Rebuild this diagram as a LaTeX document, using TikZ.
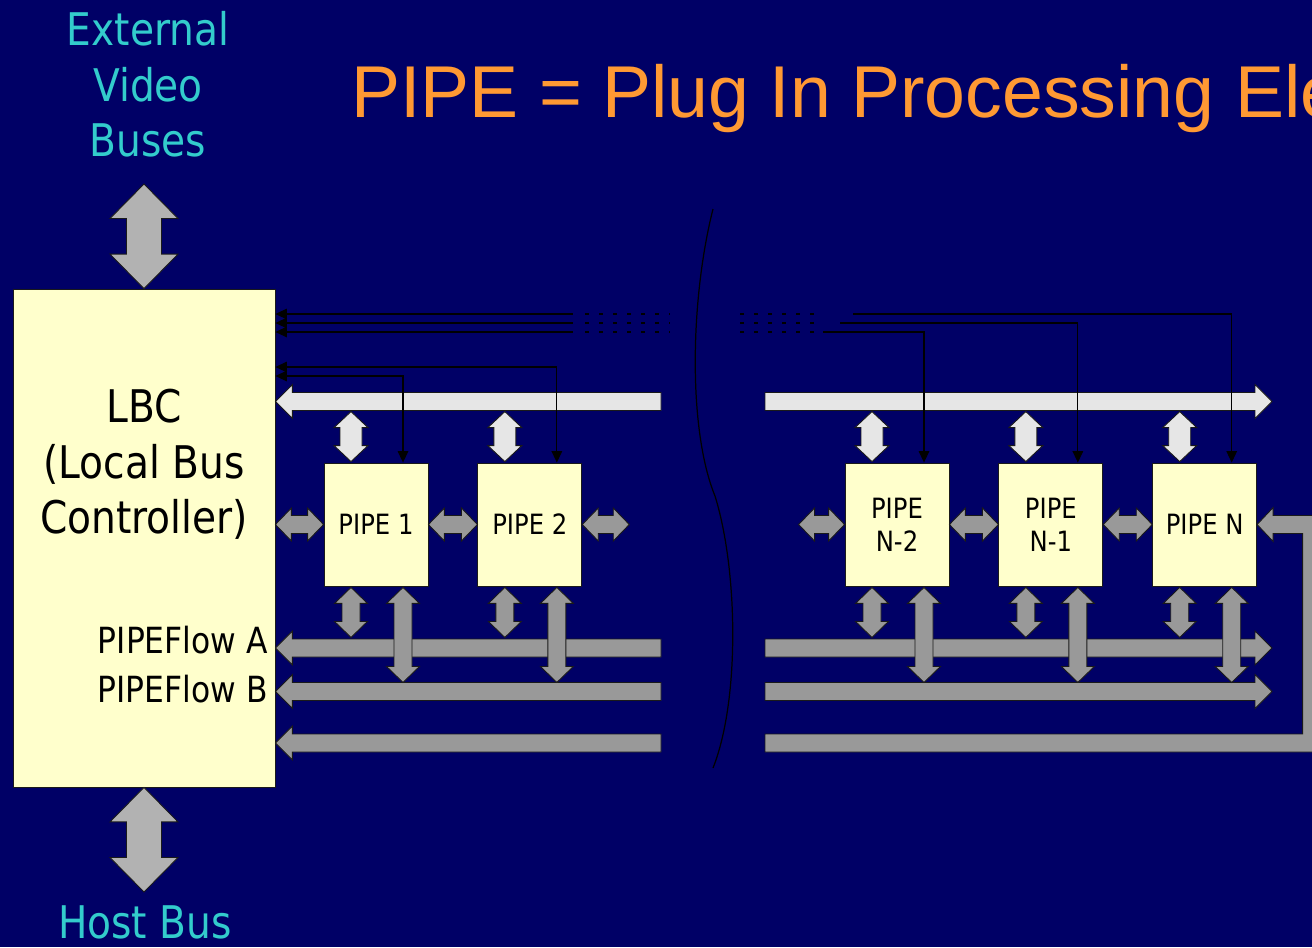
\documentclass[tikz,border=0pt]{standalone}
\usepackage{fontspec}
\setmainfont{DejaVu Sans}[FakeStretch=0.87]
\newfontfamily\titlefont{Liberation Sans}
\usetikzlibrary{positioning,arrows.meta,calc}
\definecolor{slidebg}{HTML}{000066}
\definecolor{busname}{HTML}{33CCCC}
\definecolor{titlecolor}{HTML}{FF9933}
\definecolor{boxfill}{HTML}{FFFFCC}
\definecolor{biggray}{HTML}{B2B2B2}
\definecolor{midgray}{HTML}{999999}
\definecolor{lightbus}{HTML}{E6E6E6}
\definecolor{edge}{HTML}{1A1A1A}

% block arrow geometry (half body, half head, head length)
\def\blkbody{0.18cm}
\def\blkhead{0.34cm}
\def\blklen{0.34cm}
\tikzset{
    blk body/.code={\def\blkbody{#1}},
    blk head/.code={\def\blkhead{#1}},
    blk len/.code={\def\blklen{#1}},
}

% vertical block arrow, heads at both ends (top point first)
\newcommand{\blockarrowV}[3][]{%
  \path[blockarrow,#1] let \p1=#2, \p2=#3 in
    (\x1,\y1) -- (\x1+\blkhead,\y1-\blklen) -- (\x1+\blkbody,\y1-\blklen)
    -- (\x1+\blkbody,\y2+\blklen) -- (\x1+\blkhead,\y2+\blklen) -- (\x1,\y2)
    -- (\x1-\blkhead,\y2+\blklen) -- (\x1-\blkbody,\y2+\blklen)
    -- (\x1-\blkbody,\y1-\blklen) -- (\x1-\blkhead,\y1-\blklen) -- cycle;}

% horizontal block arrow, heads at both ends (left point first)
\newcommand{\blockarrowH}[3][]{%
  \path[blockarrow,#1] let \p1=#2, \p2=#3 in
    (\x1,\y1) -- (\x1+\blklen,\y1+\blkhead) -- (\x1+\blklen,\y1+\blkbody)
    -- (\x2-\blklen,\y1+\blkbody) -- (\x2-\blklen,\y1+\blkhead) -- (\x2,\y1)
    -- (\x2-\blklen,\y1-\blkhead) -- (\x2-\blklen,\y1-\blkbody)
    -- (\x1+\blklen,\y1-\blkbody) -- (\x1+\blklen,\y1-\blkhead) -- cycle;}

% bus bar, head at the first point, flat at the second
\newcommand{\busarrow}[3][]{%
  \path[blockarrow,#1] let \p1=#2, \p2=#3, \n1={sign(\x2-\x1)} in
    (\x1,\y1) -- (\x1+\n1*\blklen,\y1+\blkhead) -- (\x1+\n1*\blklen,\y1+\blkbody)
    -- (\x2,\y1+\blkbody) -- (\x2,\y1-\blkbody) -- (\x1+\n1*\blklen,\y1-\blkbody)
    -- (\x1+\n1*\blklen,\y1-\blkhead) -- cycle;}

\begin{document}
\begin{tikzpicture}[
    x=0.02cm, y=-0.02cm,
    >={Triangle[length=6.5pt,width=6pt]},
    every node/.style={inner sep=0pt},
    pipebox/.style={
        draw=edge,
        line width=0.5pt,
        fill=boxfill,
        minimum width=2.08cm,
        minimum height=2.46cm,
        align=center,
        font=\fontsize{15.9}{18.8}\selectfont,
    },
    lbcbox/.style={
        draw=edge,
        line width=0.5pt,
        fill=boxfill,
        minimum width=5.24cm,
        minimum height=9.96cm,
    },
    bigtext/.style={align=center,font=\fontsize{25.6}{31.7}\selectfont},
    flowtext/.style={font=\fontsize{20.5}{24}\selectfont},
    blockarrow/.style={draw=edge,line width=0.5pt,line join=miter},
    bigarrow/.style={fill=biggray,blk body=0.35cm,blk head=0.68cm,blk len=0.69cm},
    lightarrow/.style={fill=lightbus,blk body=0.22cm,blk head=0.34cm,blk len=0.32cm},
    grayarrow/.style={fill=midgray,blk body=0.18cm,blk head=0.33cm,blk len=0.32cm},
    graybus/.style={fill=midgray,blk body=0.18cm,blk head=0.34cm,blk len=0.34cm},
    lightbar/.style={fill=lightbus,blk body=0.18cm,blk head=0.34cm,blk len=0.34cm},
    sig/.style={draw=black,line width=0.6pt},
    sigdash/.style={draw=black,line width=0.6pt,dash pattern=on 2.3pt off 5.7pt},
    breakline/.style={draw=black,line width=0.7pt},
]

\useasboundingbox (0,0) rectangle (1312,947);
\clip (0,0) rectangle (1312,947);
\fill[slidebg] (0,0) rectangle (1312,947);

% Title
\node[font=\titlefont\fontsize{41.8}{50}\selectfont,text=titlecolor,anchor=base west] (title) at (351,117) {PIPE = Plug In Processing Ele};

% LBC and its outside buses
\node[lbcbox] (lbc) at (144,538) {};
\node[bigtext,anchor=north] (lbctext) at ($(lbc.north)+(0,100)$) {LBC\\(Local Bus\\Controller)};
\node[bigtext,text=busname,anchor=north] (ext) at (148,11) {External\\Video\\Buses};
\node[bigtext,text=busname,anchor=base] (host) at (145,938) {Host Bus};

\coordinate (extTip) at (144,184);
\coordinate (hostTip) at (144,892);
\blockarrowV[bigarrow]{(extTip)}{(lbc.north)};
\blockarrowV[bigarrow]{(lbc.south)}{(hostTip)};

% PIPEs
\node[pipebox] (pipe1) at (376,524.5) {PIPE 1};
\node[pipebox,right=0.98cm of pipe1] (pipe2) {PIPE 2};
\node[pipebox] (pipeNb) at (897,524.5) {PIPE\\N-2};
\node[pipebox,right=0.98cm of pipeNb] (pipeNa) {PIPE\\N-1};
\node[pipebox,right=0.98cm of pipeNa] (pipeN) {PIPE N};

% Bus levels and the break
\coordinate (busW) at (0,401.5);
\coordinate (busA) at (0,648);
\coordinate (busB) at (0,691.5);
\coordinate (busC) at (0,743);
\coordinate (gapL) at (661,0);
\coordinate (gapR) at (765,0);
\coordinate (busEnd) at (1272,0);

\node[flowtext,anchor=base east] (flowA) at (268,653) {PIPEFlow A};
\node[flowtext,anchor=base east] (flowB) at (268,702) {PIPEFlow B};

% Buses
\busarrow[lightbar]{(lbc.east |- busW)}{(gapL |- busW)};
\busarrow[lightbar]{(busEnd |- busW)}{(gapR |- busW)};
\busarrow[graybus]{(lbc.east |- busA)}{(gapL |- busA)};
\busarrow[graybus]{(busEnd |- busA)}{(gapR |- busA)};
\busarrow[graybus]{(lbc.east |- busB)}{(gapL |- busB)};
\busarrow[graybus]{(busEnd |- busB)}{(gapR |- busB)};
\busarrow[graybus]{(lbc.east |- busC)}{(gapL |- busC)};
% return bus into PIPE N
\path[blockarrow,fill=midgray] let \p1=(pipeN.east), \p2=(gapR |- busC) in
    (\x2,\y2+0.18cm) -- (\x1+0.91cm,\y2+0.18cm) -- (\x1+0.91cm,\y1-0.18cm)
    -- (\x1+0.32cm,\y1-0.18cm) -- (\x1+0.32cm,\y1-0.34cm) -- (\x1,\y1)
    -- (\x1+0.32cm,\y1+0.34cm) -- (\x1+0.32cm,\y1+0.18cm) -- (\x1+1.27cm,\y1+0.18cm)
    -- (\x1+1.27cm,\y2-0.18cm) -- (\x2,\y2-0.18cm) -- cycle;

% PIPE to PIPE
\blockarrowH[grayarrow]{(lbc.east |- pipe1.west)}{(pipe1.west)};
\blockarrowH[grayarrow]{(pipe1.east)}{(pipe2.west)};
\blockarrowH[grayarrow]{(pipe2.east)}{($(pipe2.east)+(47,0)$)};
\blockarrowH[grayarrow]{($(pipeNb.west)+(-46,0)$)}{(pipeNb.west)};
\blockarrowH[grayarrow]{(pipeNb.east)}{(pipeNa.west)};
\blockarrowH[grayarrow]{(pipeNa.east)}{(pipeN.west)};

% PIPEs to the buses
\blockarrowV[lightarrow]{($(pipe1.north)+(-25,-51)$)}{($(pipe1.north)+(-25,-1)$)};
\blockarrowV[lightarrow]{($(pipe2.north)+(-25,-51)$)}{($(pipe2.north)+(-25,-1)$)};
\blockarrowV[lightarrow]{($(pipeNb.north)+(-25,-51)$)}{($(pipeNb.north)+(-25,-1)$)};
\blockarrowV[lightarrow]{($(pipeNa.north)+(-25,-51)$)}{($(pipeNa.north)+(-25,-1)$)};
\blockarrowV[lightarrow]{($(pipeN.north)+(-25,-51)$)}{($(pipeN.north)+(-25,-1)$)};

\blockarrowV[grayarrow]{($(pipe1.south)+(-25,1)$)}{($(pipe1.south)+(-25,51)$)};
\blockarrowV[grayarrow]{($(pipe2.south)+(-25,1)$)}{($(pipe2.south)+(-25,51)$)};
\blockarrowV[grayarrow]{($(pipeNb.south)+(-25,1)$)}{($(pipeNb.south)+(-25,51)$)};
\blockarrowV[grayarrow]{($(pipeNa.south)+(-25,1)$)}{($(pipeNa.south)+(-25,51)$)};
\blockarrowV[grayarrow]{($(pipeN.south)+(-25,1)$)}{($(pipeN.south)+(-25,51)$)};

\blockarrowV[grayarrow]{($(pipe1.south)+(27,1)$)}{($(pipe1.south)+(27,96)$)};
\blockarrowV[grayarrow]{($(pipe2.south)+(27,1)$)}{($(pipe2.south)+(27,96)$)};
\blockarrowV[grayarrow]{($(pipeNb.south)+(27,1)$)}{($(pipeNb.south)+(27,96)$)};
\blockarrowV[grayarrow]{($(pipeNa.south)+(27,1)$)}{($(pipeNa.south)+(27,96)$)};
\blockarrowV[grayarrow]{($(pipeN.south)+(27,1)$)}{($(pipeN.south)+(27,96)$)};

% Control lines
\coordinate (ctl1) at (0,376);
\coordinate (ctl2) at (0,367);
\coordinate (ctlN) at (0,314);
\coordinate (ctlNa) at (0,323);
\coordinate (ctlNb) at (0,332);
\coordinate (brkL) at (573,0);
\coordinate (dotL1) at (585,0);
\coordinate (dotL2) at (670,0);
\coordinate (dotR1) at (740,0);
\coordinate (dotR2) at (818,0);
\coordinate (resN) at (853,0);
\coordinate (resNa) at (840,0);
\coordinate (resNb) at (823,0);

\draw[sig,<->] (lbc.east |- ctl1) -| ($(pipe1.north)+(27,0)$);
\draw[sig,<->] (lbc.east |- ctl2) -| ($(pipe2.north)+(27,0)$);

\draw[sig,<-] (lbc.east |- ctlN) -- (brkL |- ctlN);
\draw[sig,<-] (lbc.east |- ctlNa) -- (brkL |- ctlNa);
\draw[sig,<-] (lbc.east |- ctlNb) -- (brkL |- ctlNb);
\draw[sigdash] (dotL1 |- ctlN) -- (dotL2 |- ctlN) (dotR1 |- ctlN) -- (dotR2 |- ctlN);
\draw[sigdash] (dotL1 |- ctlNa) -- (dotL2 |- ctlNa) (dotR1 |- ctlNa) -- (dotR2 |- ctlNa);
\draw[sigdash] (dotL1 |- ctlNb) -- (dotL2 |- ctlNb) (dotR1 |- ctlNb) -- (dotR2 |- ctlNb);
\draw[sig,->] (resN |- ctlN) -| ($(pipeN.north)+(27,0)$);
\draw[sig,->] (resNa |- ctlNa) -| ($(pipeNa.north)+(27,0)$);
\draw[sig,->] (resNb |- ctlNb) -| ($(pipeNb.north)+(27,0)$);

% Break
\draw[breakline] (713,209) .. controls (690,300) and (688,430) .. (715,496)
    .. controls (738,570) and (740,700) .. (713,768);

\end{tikzpicture}
\end{document}
